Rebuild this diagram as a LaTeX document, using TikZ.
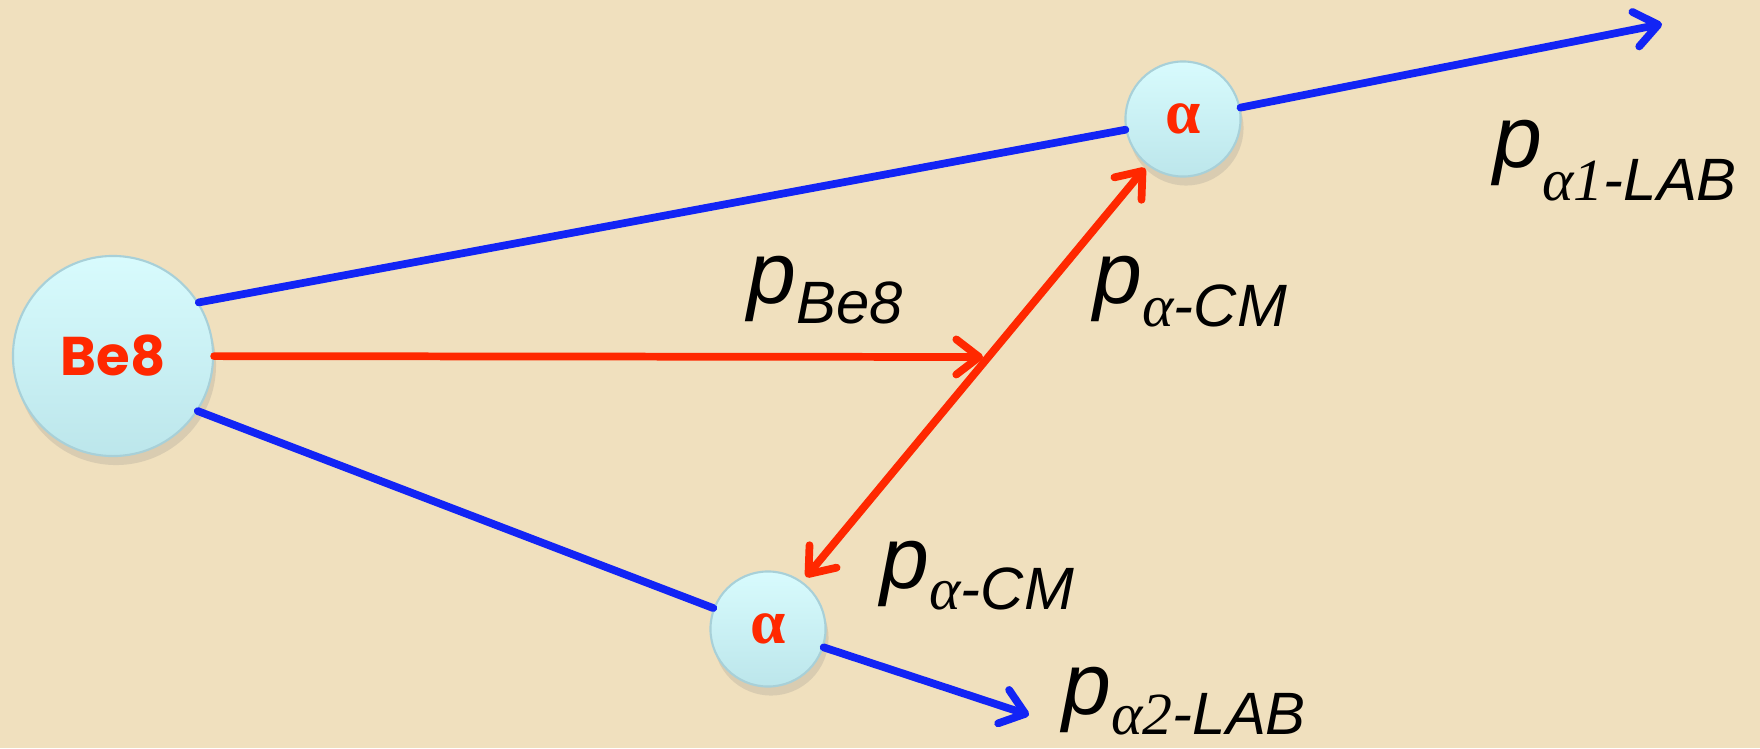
\documentclass[tikz,border=0pt]{standalone}
\usepackage{fontspec}
\setmainfont{Liberation Sans}
\newfontfamily\greekfont{Liberation Serif}
\newfontfamily\nucfont{Poppins}
\usetikzlibrary{arrows.meta,shadows}
\definecolor{parchment}{RGB}{240,224,190}
\definecolor{beamblue}{RGB}{18,36,245}
\definecolor{beamred}{RGB}{255,40,0}
\definecolor{balltop}{RGB}{216,251,253}
\definecolor{ballbot}{RGB}{188,230,235}
\definecolor{ballrim}{RGB}{168,208,216}
\newcommand{\mom}[2][5.7pt]{{\fontsize{25}{30}\selectfont\itshape p}\raisebox{-#1}{\fontsize{17}{20}\selectfont\itshape #2}}
\newcommand{\alf}{{\greekfont α}}
\begin{document}
\begin{tikzpicture}[x=0.01cm,y=-0.01cm,
  ball/.style={circle, draw=ballrim, line width=0.6pt, top color=balltop, bottom color=ballbot, inner sep=0pt, drop shadow={opacity=0.2, shadow xshift=0.3mm, shadow yshift=-0.9mm}},
  nucleus/.style={ball, minimum size=2cm, font=\nucfont\bfseries\fontsize{15.5}{18}\selectfont, text=beamred},
  alphaball/.style={ball, minimum size=1.15cm, font=\greekfont\bfseries\fontsize{18}{20}\selectfont, text=beamred},
  momlabel/.style={anchor=base west, inner sep=0pt, text=black},
  barb/.tip={Straight Barb[length=6.5pt,width=10pt,round]},
  labline/.style={draw=beamblue, line width=2.2pt, line cap=round},
  cmline/.style={draw=beamred, line width=2.2pt, line cap=round}
]
\fill[parchment] (0,0) rectangle (1760,748);
\useasboundingbox (0,0) rectangle (1760,748);

\coordinate (lab1) at (1662,24);
\coordinate (lab2) at (1029,715);
\coordinate (mid) at (983,357);
\coordinate (cmup) at (1145,168);
\coordinate (cmlow) at (806,577);

\node[nucleus] (be) at (113,356) {Be8};
\node[alphaball] (a1) at (1183,119) {\raisebox{-2.5pt}{α}};
\node[alphaball] (a2) at (768,629) {\raisebox{-2.5pt}{α}};

\draw[labline] (be.32) -- (a1);
\draw[labline, -barb] (a1) -- (lab1);
\draw[labline] (be.-33) -- (a2);
\draw[labline, -barb] (a2) -- (lab2);
\draw[cmline, -barb] (be) -- (mid);
\draw[cmline, barb-barb] (cmlow) -- (cmup);

\node[momlabel] (pbe) at (747,303) {\mom{Be8}};
\node[momlabel] (pcmup) at (1093,303) {\mom[6.8pt]{\alf-CM}};
\node[momlabel] (pcmlow) at (880,588) {\mom[6pt]{\alf-CM}};
\node[momlabel] (plab1) at (1493,167) {\mom[9.4pt]{{\greekfont α1}-LAB}};
\node[momlabel] (plab2) at (1062,714) {\mom{{\greekfont α2}-LAB}};
\end{tikzpicture}
\end{document}
